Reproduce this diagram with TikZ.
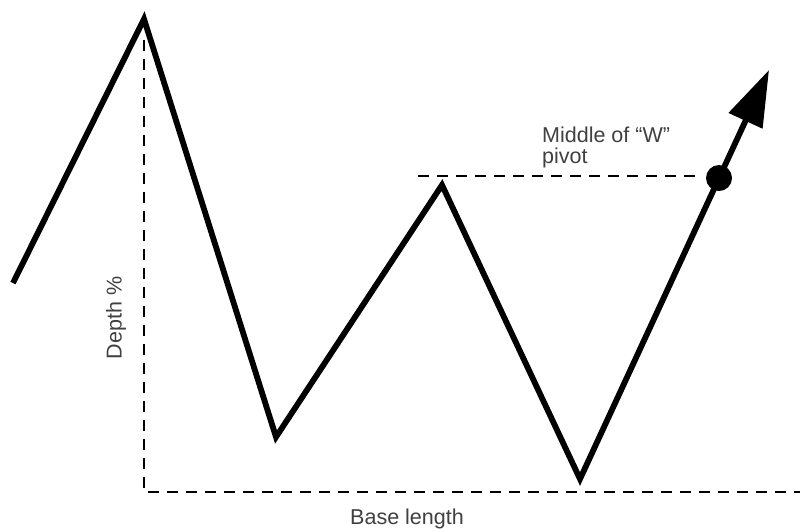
\documentclass[tikz,border=0pt]{standalone}
\usepackage{fontspec}
\setmainfont{Liberation Sans}
\usetikzlibrary{arrows.meta}

\begin{document}
\begin{tikzpicture}[x=1pt, y=-1pt, line join=miter]
	\tikzset{zigzag/.style={line width=5.8pt}, guide/.style={line width=2.5pt, dash pattern=on 11pt off 8pt}, note/.style={text=black!75, font=\fontsize{21.5}{21}\selectfont, inner sep=0pt}}
	\useasboundingbox (0, 0) rectangle (800, 528);
	\coordinate (start) at (13, 283);
	\coordinate (peakA) at (144, 19);
	\coordinate (troughA) at (276, 437);
	\coordinate (peakB) at (442, 185);
	\coordinate (troughB) at (580, 479);
	\coordinate (tip) at (769, 70);
	\coordinate (depthtop) at (144, 40);
	\coordinate (corner) at (144, 492);
	\coordinate (baseend) at (800, 492);
	\coordinate (levelA) at (418, 176);
	\coordinate (levelB) at (697, 176);
	\draw [guide] (depthtop) -- (corner) -- (baseend);
	\draw [guide] (levelA) -- (levelB);
	\draw [zigzag, -{Triangle[length=56pt, width=36pt]}] (start) -- (peakA) -- (troughA) -- (peakB) -- (troughB) -- (tip);
	\node (pivot) [circle, fill, minimum size=26pt, inner sep=0pt] at (719, 178) {};
	\node (depth) [note, rotate=90] at (116, 318) {Depth \%};
	\node (base) [note, anchor=base] at (407, 524) {Base length};
	\node (middle) [note, anchor=north west, align=left] at (542, 127) {Middle of “W”\\pivot};
\end{tikzpicture}
\end{document}
